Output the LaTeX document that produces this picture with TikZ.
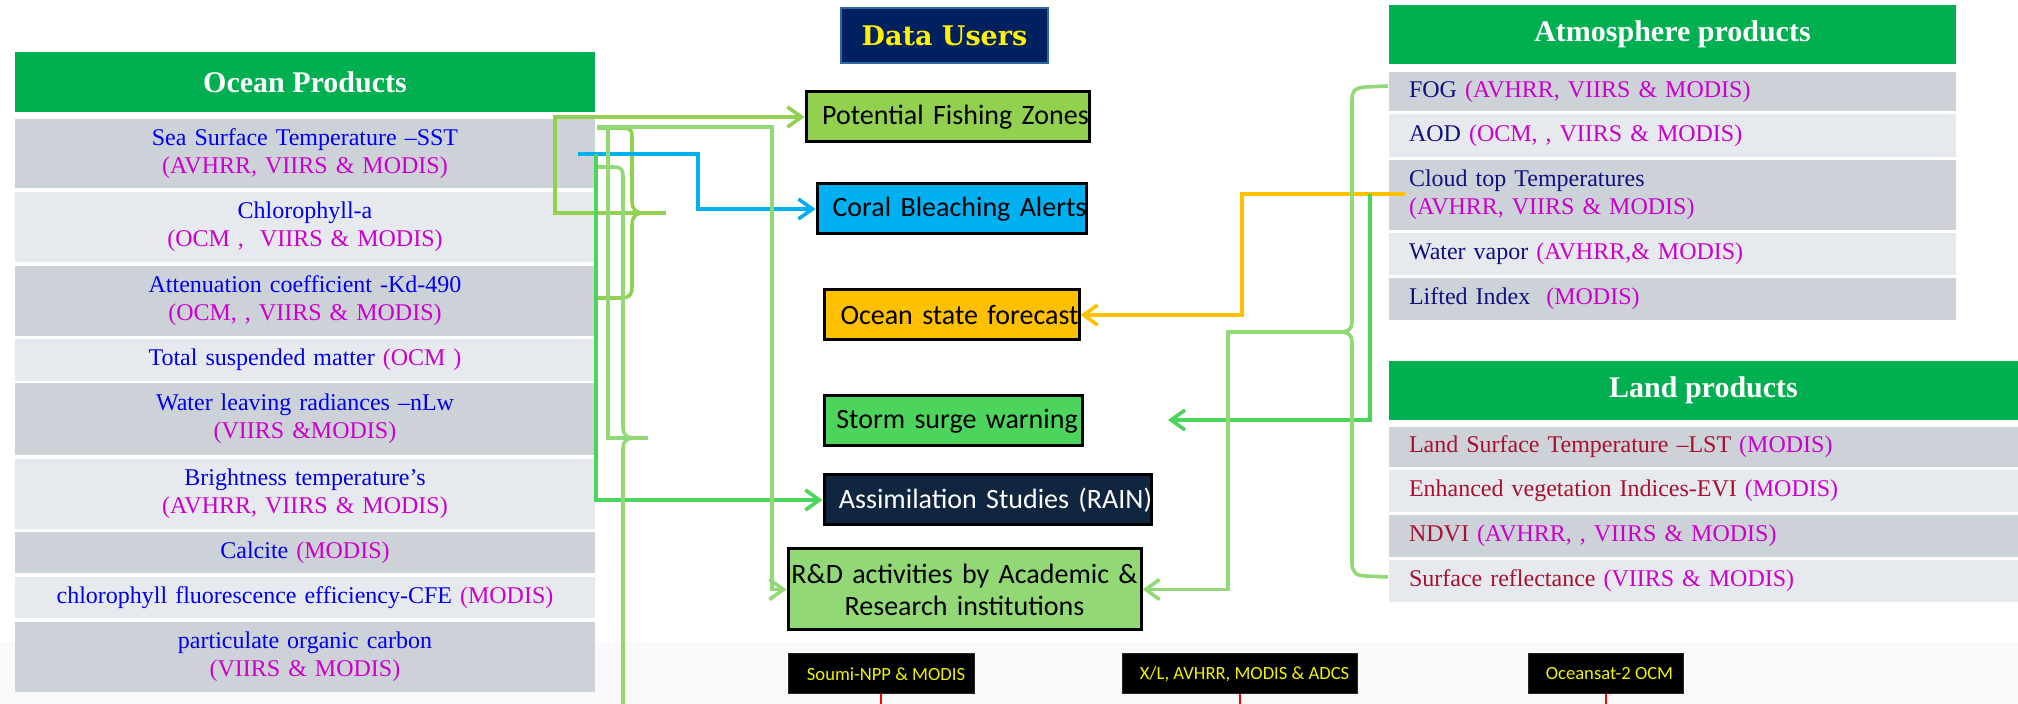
\documentclass[tikz,border=0pt]{standalone}
\usepackage{fontspec}
\setmainfont{Liberation Serif}
\newfontfamily\boxfont{Carlito}
\newfontfamily\dufont{DejaVu Serif}
\usetikzlibrary{arrows.meta}
\definecolor{hgreen}{HTML}{00B050}
\definecolor{rowdark}{HTML}{CDD2D9}
\definecolor{rowlight}{HTML}{E6E9ED}
\definecolor{oblue}{HTML}{0000EE}
\definecolor{mag}{HTML}{CC00CC}
\definecolor{navyt}{HTML}{10107F}
\definecolor{lred}{HTML}{A8102E}
\definecolor{pfzg}{HTML}{92D050}
\definecolor{lgreen}{HTML}{92D876}
\definecolor{sgreen}{HTML}{4CD45C}
\definecolor{cblue}{HTML}{00B0F0}
\definecolor{ogold}{HTML}{FFC000}
\definecolor{dublue}{HTML}{002060}
\definecolor{duborder}{HTML}{2E6A9E}
\definecolor{asnavy}{HTML}{10253F}
\definecolor{satyellow}{HTML}{F2F200}
\definecolor{bgstrip}{HTML}{F9F9FB}
\newcommand{\mg}[1]{\textcolor{mag}{#1}}
\newcommand{\oneline}[2]{\makebox[\linewidth]{\hspace*{#1}#2}}
\begin{document}
\begin{tikzpicture}[x=0.5pt,y=-0.5pt,
 hdr/.style={fill=hgreen,text=white,inner sep=0pt,font=\fontsize{15pt}{18pt}\selectfont\bfseries},
 orow/.style={inner xsep=0pt,inner ysep=0pt,text width=290pt,align=center,text=oblue,font=\fontsize{12pt}{14pt}\selectfont},
 arow/.style={inner xsep=10pt,inner ysep=0pt,text width=263.5pt,align=left,text=navyt,font=\fontsize{12pt}{14pt}\selectfont},
 lrow/.style={inner xsep=10pt,inner ysep=0pt,text width=294.5pt,align=left,text=lred,font=\fontsize{12pt}{14pt}\selectfont},
 dk/.style={fill=rowdark}, lt/.style={fill=rowlight},
 ubox/.style={draw=black,line width=1.5pt,inner xsep=0pt,inner ysep=0pt,align=center,font=\boxfont\fontsize{14pt}{16pt}\selectfont},
 sat/.style={fill=black,draw=black!85,line width=0.5pt,inner sep=0pt,minimum height=20pt,text=satyellow,font=\boxfont\fontsize{9.3pt}{11pt}\selectfont},
 conn/.style={line width=1.8pt},
 tip/.style={-{Straight Barb[length=7pt,width=10pt]}},
]
\useasboundingbox (0,0) rectangle (2018,704);
\fill[bgstrip] (0,642) rectangle (2018,704);

% ---- Ocean products
\node[hdr,minimum width=290pt,minimum height=30pt] (ohdr) at (305,82) {Ocean Products};
\node[orow,dk,minimum height=34.5pt] (sst) at (305,153.5) {Sea Surface Temperature –SST\\\mg{(AVHRR, VIIRS \& MODIS)}};
\node[orow,lt,minimum height=35pt] (chl) at (305,227) {Chlorophyll-a\\\mg{(OCM ,\ \ VIIRS \& MODIS)}};
\node[orow,dk,minimum height=35pt] (att) at (305,301) {Attenuation coefficient -Kd-490\\\mg{(OCM, , VIIRS \& MODIS)}};
\node[orow,lt,minimum height=21pt] (tsm) at (305,360) {Total suspended matter \mg{(OCM )}};
\node[orow,dk,minimum height=36pt] (wlr) at (305,419) {Water leaving radiances –nLw\\\mg{(VIIRS \&MODIS)}};
\node[orow,lt,minimum height=35pt] (bt) at (305,494) {Brightness temperature’s\\\mg{(AVHRR, VIIRS \& MODIS)}};
\node[orow,dk,minimum height=20.5pt] (cal) at (305,552.5) {Calcite \mg{(MODIS)}};
\node[orow,lt,minimum height=20.5pt] (cfe) at (305,597.5) {chlorophyll fluorescence efficiency-CFE \mg{(MODIS)}};
\node[orow,dk,minimum height=35pt] (poc) at (305,657) {particulate organic carbon\\\mg{(VIIRS \& MODIS)}};

% ---- Atmosphere products
\node[hdr,minimum width=283.5pt,minimum height=29.5pt] (ahdr) at (1672.5,34.5) {Atmosphere products};
\node[arow,dk,minimum height=19.5pt] (fog) at (1672.5,91.5) {FOG \mg{(AVHRR, VIIRS \& MODIS)}};
\node[arow,lt,minimum height=21.5pt] (aod) at (1672.5,135.5) {AOD \mg{(OCM, , VIIRS \& MODIS)}};
\node[arow,dk,minimum height=35pt] (ctt) at (1672.5,195) {Cloud top Temperatures\\\mg{(AVHRR, VIIRS \& MODIS)}};
\node[arow,lt,minimum height=21pt] (wv) at (1672.5,254) {Water vapor \mg{(AVHRR,\& MODIS)}};
\node[arow,dk,minimum height=21pt] (li) at (1672.5,299) {Lifted Index\ \ \mg{(MODIS)}};

% ---- Land products
\node[hdr,minimum width=314.5pt,minimum height=29.5pt] (lhdr) at (1703.5,390.5) {Land products};
\node[lrow,dk,minimum height=20pt] (lst) at (1703.5,447) {Land Surface Temperature –LST \mg{(MODIS)}};
\node[lrow,lt,minimum height=21pt] (evi) at (1703.5,491) {Enhanced vegetation Indices-EVI \mg{(MODIS)}};
\node[lrow,dk,minimum height=21pt] (ndvi) at (1703.5,536) {NDVI \mg{(AVHRR, , VIIRS \& MODIS)}};
\node[lrow,lt,minimum height=21pt] (sr) at (1703.5,581) {Surface reflectance \mg{(VIIRS \& MODIS)}};

% ---- Data users
\node[fill=dublue,draw=duborder,line width=1pt,minimum width=103.5pt,minimum height=27.5pt,inner sep=0pt,text=yellow,font=\dufont\bfseries\fontsize{13.5pt}{16pt}\selectfont] (du) at (944.5,35.5) {Data Users};
\node[ubox,fill=pfzg,text width=141.5pt,minimum height=25pt] (pfz) at (947.5,117) {\oneline{8pt}{Potential Fishing Zones}};
\node[ubox,fill=cblue,text width=134.5pt,minimum height=25pt] (coral) at (951.5,209) {\oneline{8pt}{Coral Bleaching Alerts}};
\node[ubox,fill=ogold,text width=127.5pt,minimum height=25pt] (osf) at (951.5,315) {\oneline{8pt}{Ocean state forecast}};
\node[ubox,fill=sgreen,text width=129pt,minimum height=25pt] (ssw) at (953,421) {\oneline{4pt}{Storm surge warning}};
\node[ubox,fill=asnavy,text=white,text width=163.5pt,minimum height=25pt] (asm) at (987.5,500) {\oneline{8pt}{Assimilation Studies (RAIN)}};
\node[ubox,fill=lgreen,text width=176.5pt,minimum height=40.5pt] (rd) at (964.5,589.5) {R\&D activities by Academic \&\\Research institutions};

% ---- satellites
\node[sat,minimum width=93pt] (npp) at (881,674) {\hspace*{5pt}Soumi-NPP \& MODIS};
\node[sat,minimum width=117.5pt] (xl) at (1239.5,674) {\hspace*{5pt}X/L, AVHRR, MODIS \& ADCS};
\node[sat,minimum width=77.5pt] (ocm) at (1605.5,674) {\hspace*{4pt}Oceansat-2 OCM};
\coordinate (bot) at (0,704);
\draw[red,line width=1pt] (npp.south) -- (npp.south |- bot);
\draw[red,line width=1pt] (xl.south) -- (xl.south |- bot);
\draw[red,line width=1pt] (ocm.south) -- (ocm.south |- bot);

% ---- coordinates
\coordinate (tipA) at (666,213);
\coordinate (tipB) at (648,438);
\coordinate (tipC) at (1341,332);
\coordinate (cblS) at (578,154);
\coordinate (asmS) at (596,154);
\coordinate (rdS) at (597,127);
\coordinate (cttS) at (1405,194);
\coordinate (sswS) at (1370,194);
\coordinate (sswE) at (1168,420);

% ---- left connectors
\draw[pfzg,conn] (597,128) -- (622,128) .. controls (632,128) and (632,131) .. (632,140) -- (632,201) .. controls (632,210) and (636,213) .. (644,213) .. controls (636,213) and (632,216) .. (632,225) -- (632,286) .. controls (632,295) and (630,298) .. (620,298) -- (597,298);
\draw[pfzg,conn,tip] (tipA) -- (555,213) |- (pfz.west);
\draw[cblue,conn,tip] (cblS) -- (698,154) |- (coral.west);
\draw[sgreen,conn,tip] (asmS) |- (asm.west);
\draw[lgreen,conn] (598,167) -- (613,167) .. controls (621,167) and (623,169) .. (623,177) -- (623,428) .. controls (623,435) and (627,438) .. (634,438) .. controls (627,438) and (623,441) .. (623,448) -- (623,704);
\draw[lgreen,conn] (tipB) -- (608,438) -- (608,127);
\draw[lgreen,conn,tip] (rdS) -- (772,127) |- (rd.west);

% ---- right connectors
\draw[ogold,conn,tip] (cttS) -- (1242,194) |- (osf.east);
\draw[sgreen,conn,tip] (sswS) -- (1370,420) -- (sswE);
\draw[lgreen,conn] (1388,86) -- (1366,87) .. controls (1354,88) and (1352,91) .. (1352,100) -- (1352,322) .. controls (1352,329) and (1348,332) .. (1341,332) .. controls (1348,332) and (1352,335) .. (1352,342) -- (1352,563) .. controls (1352,572) and (1356,576) .. (1366,576) -- (1388,577);
\draw[lgreen,conn,tip] (tipC) -- (1228,332) |- (rd.east);
\end{tikzpicture}
\end{document}
